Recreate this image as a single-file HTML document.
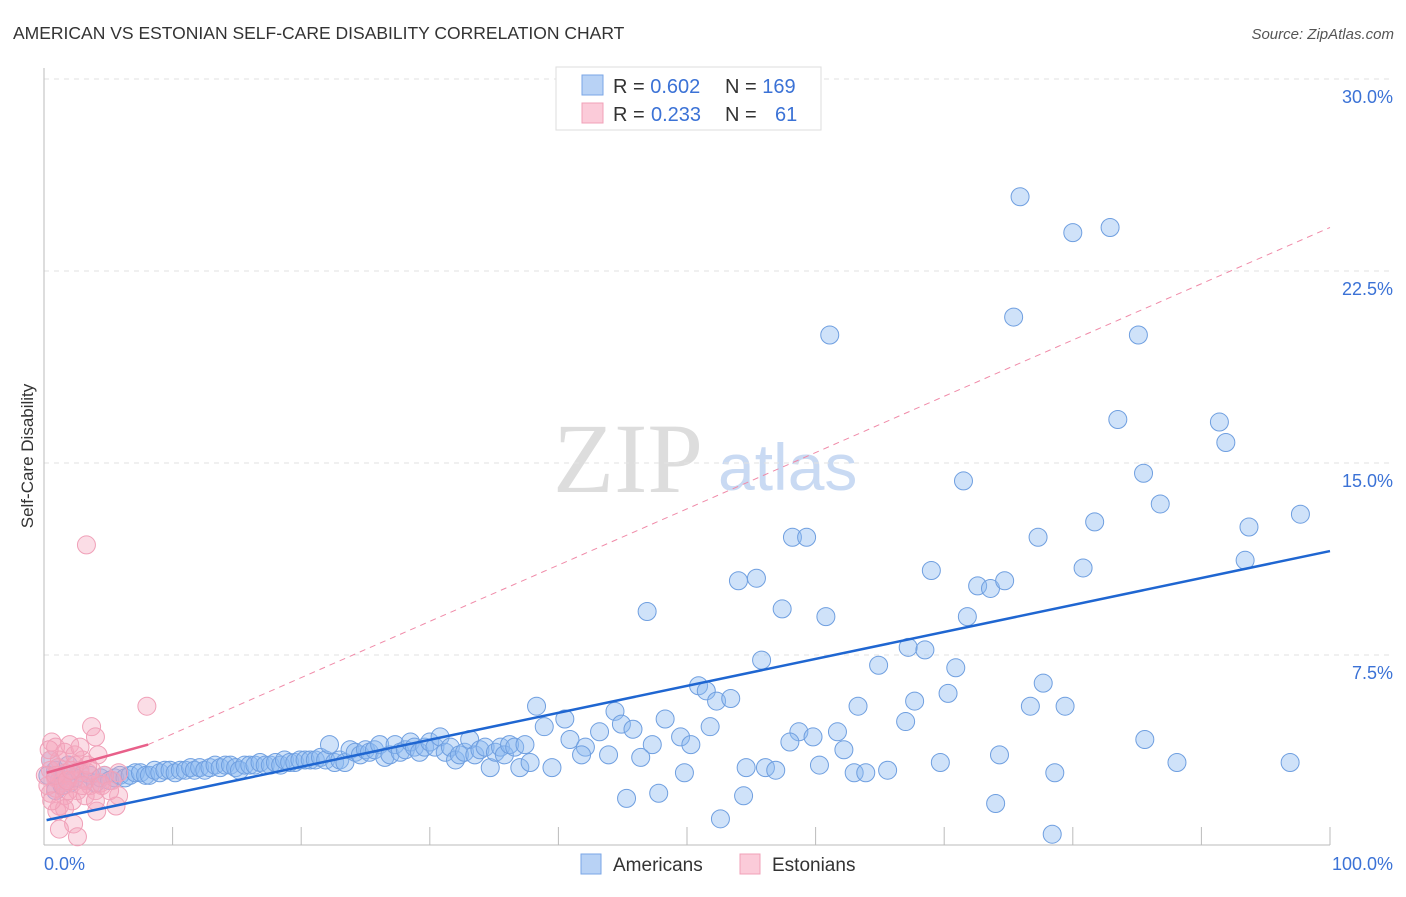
<!DOCTYPE html>
<html><head><meta charset="utf-8"><style>
body{margin:0;background:#fff;font-family:"Liberation Sans",sans-serif;}
svg text{font-family:"Liberation Sans",sans-serif;}
</style></head><body>
<svg id="chart" width="1406" height="892" xmlns="http://www.w3.org/2000/svg">
<text x="13" y="39" font-size="17.5" fill="#333">AMERICAN VS ESTONIAN SELF-CARE DISABILITY CORRELATION CHART</text>
<text x="1394" y="39" font-size="15" fill="#555" font-style="italic" text-anchor="end">Source: ZipAtlas.com</text>
<g>
<text x="553" y="492" font-size="100" fill="#ddd" style="font-family:'Liberation Serif',serif">ZIP</text>
<text x="718" y="490" font-size="66" fill="#c9daf3">atlas</text>
</g>
<g id="grid"></g>
<g id="axes"></g>
<g id="pts"></g>
<g id="lines"></g>
<text transform="translate(33,456) rotate(-90)" font-size="17" fill="#333" text-anchor="middle">Self-Care Disability</text>
<text x="44" y="870" font-size="18" fill="#3b72d6">0.0%</text>
<text x="1393" y="870" font-size="18" fill="#3b72d6" text-anchor="end">100.0%</text>
<g>
<rect x="556" y="67" width="265" height="63" fill="#fff" stroke="#ddd"/>
<rect x="582" y="75" width="21" height="20" fill="#b8d2f5" stroke="#7aa6e6"/>
<rect x="582" y="103" width="21" height="20" fill="#fbcbd9" stroke="#f0a0b8"/>
<text x="613" y="93" font-size="20" fill="#333">R = <tspan fill="#3b72d6">0.602</tspan><tspan x="725">N = </tspan><tspan fill="#3b72d6">169</tspan></text>
<text x="613" y="121" font-size="20" fill="#333">R = <tspan fill="#3b72d6" x="651">0.233</tspan><tspan x="725">N = </tspan><tspan fill="#3b72d6" x="775">61</tspan></text>
</g>
<g>
<rect x="581" y="854" width="20" height="20" fill="#b8d2f5" stroke="#7aa6e6"/>
<text x="613" y="871" font-size="19" fill="#333">Americans</text>
<rect x="740" y="854" width="20" height="20" fill="#fbcbd9" stroke="#f0a0b8"/>
<text x="772" y="871" font-size="19" fill="#333">Estonians</text>
</g>
</svg>
<script>
const yTicks=[7.5,15,22.5,30];
const yTickLabels=["7.5%","15.0%","22.5%","30.0%"];
const xTicks=[10,20,30,40,50,60,70,80,90,100];
const amerX=[75.9,80.0,82.9,61.1,75.4,85.1,83.5,91.4,91.9,85.5,71.5,86.8,97.7,93.7,81.7,77.3,58.2,59.3,93.4,69.0,80.8,54.0,55.4,72.6,73.6,74.7,46.9,57.4,60.8,71.8,55.8,64.9,67.2,68.5,70.9,77.7,50.9,51.5,52.3,53.4,70.3,67.7,63.3,76.7,79.4,38.3,44.4,40.5,38.9,48.3,51.8,67.0,44.9,45.8,43.2,58.7,61.7,85.6,58.0,59.8,49.5,50.3,40.9,42.1,47.3,62.2,74.3,69.7,88.1,96.9,43.9,46.4,41.8,49.8,54.6,56.1,56.9,60.3,63.0,63.9,65.6,78.6,39.5,45.3,47.8,54.4,74.0,52.6,78.4,
0.9,1.2,1.6,2.0,2.4,2.8,3.2,3.6,4.0,4.4,4.7,5.1,5.5,5.9,6.3,6.7,7.1,7.5,7.9,8.2,8.6,9.0,9.4,9.8,10.2,10.6,11.0,11.4,11.7,12.1,12.5,12.9,13.3,13.7,14.1,14.5,14.9,15.2,15.6,16.0,16.4,16.8,17.2,17.6,18.0,18.4,18.7,19.1,19.5,19.9,20.3,20.7,21.1,21.5,21.9,22.2,22.6,23.0,23.4,23.8,24.2,24.6,25.0,25.3,25.7,26.1,26.5,26.9,27.3,27.7,28.1,28.5,28.8,29.2,29.6,30.0,30.4,30.8,31.2,31.6,32.0,32.3,32.7,33.1,33.5,33.9,34.3,34.7,35.1,35.5,35.8,36.2,36.6,37.0,37.4,37.8,0.5,0.9,1.4,1.9,0.3];
const amerY=[25.4,24.0,24.2,20.0,20.7,20.0,16.7,16.6,15.8,14.6,14.3,13.4,13.0,12.5,12.7,12.1,12.1,12.1,11.2,10.8,10.9,10.4,10.5,10.2,10.1,10.4,9.2,9.3,9.0,9.0,7.3,7.1,7.8,7.7,7.0,6.4,6.3,6.1,5.7,5.8,6.0,5.7,5.5,5.5,5.5,5.5,5.3,5.0,4.7,5.0,4.7,4.9,4.8,4.6,4.5,4.5,4.5,4.2,4.1,4.3,4.3,4.0,4.2,3.9,4.0,3.8,3.6,3.3,3.3,3.3,3.6,3.5,3.6,2.9,3.1,3.1,3.0,3.2,2.9,2.9,3.0,2.9,3.1,1.9,2.1,2.0,1.7,1.1,0.5,
3.0,2.6,2.8,2.5,2.7,2.9,2.6,2.8,2.5,2.7,2.8,2.6,2.7,2.8,2.7,2.8,2.9,2.9,2.8,2.8,3.0,2.9,3.0,3.0,2.9,3.0,3.0,3.1,3.0,3.1,3.0,3.1,3.2,3.1,3.2,3.2,3.1,3.0,3.2,3.2,3.2,3.3,3.2,3.2,3.3,3.2,3.4,3.3,3.3,3.4,3.4,3.4,3.4,3.5,3.4,4.0,3.3,3.4,3.3,3.8,3.7,3.6,3.8,3.7,3.8,4.0,3.5,3.6,4.0,3.7,3.8,4.1,3.9,3.7,3.9,4.1,3.9,4.3,3.7,3.9,3.4,3.6,3.7,4.2,3.6,3.8,3.9,3.1,3.7,3.9,3.6,4.0,3.9,3.1,4.0,3.3,3.4,2.2,2.4,3.2,2.8];
const estX=[3.3,8.0,3.7,4.0,0.6,0.9,2.0,1.6,4.2,1.2,2.4,0.5,2.8,0.9,1.4,2.0,3.2,3.6,2.6,0.5,1.6,2.2,1.2,0.9,4.0,5.8,5.8,5.3,4.7,4.4,3.0,3.4,0.5,1.1,1.7,2.3,3.7,1.0,1.6,4.1,2.3,1.2,2.6,5.6,0.3,0.6,1.9,3.2,0.1,2.4,2.8,4.5,4.0,1.5,0.9,5.1,1.8,3.0,0.4,2.1,3.4];
const estY=[11.8,5.5,4.7,4.3,4.1,3.9,4.0,3.7,3.6,3.4,3.2,3.0,3.0,2.7,2.5,2.8,2.6,2.4,2.2,2.1,2.0,1.8,1.6,2.3,2.2,2.9,2.0,2.6,2.8,2.5,3.4,2.9,3.4,3.1,2.9,2.6,3.0,1.4,1.5,1.4,0.9,0.7,0.4,1.6,2.4,1.8,2.2,2.0,2.8,3.6,3.9,2.4,1.8,2.4,2.8,2.2,2.6,2.4,3.8,3.0,3.2];
const amerTrend=[[0.2,1.05],[100,11.56]];
const estTrend=[[0.2,2.9],[8.1,4.0]];
const estTrendDash=[[8.1,4.0],[100,24.2]];
const NS="http://www.w3.org/2000/svg";
const xs=v=>44+v*12.86, ys=v=>847-v*25.6;
function mk(tag,attrs,parent){const e=document.createElementNS(NS,tag);for(const k in attrs)e.setAttribute(k,attrs[k]);document.getElementById(parent).appendChild(e);return e;}
yTicks.forEach((t,i)=>{
 const l=mk('line',{x1:44,x2:1393,y1:ys(t),y2:ys(t),stroke:'#e2e2e2','stroke-dasharray':'5,5'},'grid');
 
 
 const tx=mk('text',{x:1393,y:ys(t)+24,'font-size':18,fill:'#3b72d6','text-anchor':'end'},'grid');
 tx.textContent=yTickLabels[i];
 
 
});
const ya=mk('line',{x1:44,x2:44,y1:68,y2:845,stroke:'#bbb'},'axes');


const xa=mk('line',{x1:44,x2:1330,y1:845,y2:845,stroke:'#bbb'},'axes');


xTicks.forEach(t=>{
 const l=mk('line',{x1:xs(t),x2:xs(t),y1:827,y2:845,stroke:'#bbb'},'axes');
 
 
});
amerX.forEach((x,i)=>{
 const c=mk('circle',{cx:xs(x),cy:ys(amerY[i]),r:9,fill:'rgba(140,185,240,0.42)',stroke:'#6f9fe0','stroke-width':1},'pts');
 
 
});
estX.forEach((x,i)=>{
 const c=mk('circle',{cx:xs(x),cy:ys(estY[i]),r:9,fill:'rgba(245,165,190,0.38)',stroke:'#f0a0b8','stroke-width':1},'pts');
 
 
});
let l1=mk('line',{x1:xs(amerTrend[0][0]),y1:ys(amerTrend[0][1]),x2:xs(amerTrend[1][0]),y2:ys(amerTrend[1][1]),stroke:'#1f66d1','stroke-width':2.5},'lines');


let l2=mk('line',{x1:xs(estTrendDash[0][0]),y1:ys(estTrendDash[0][1]),x2:xs(estTrendDash[1][0]),y2:ys(estTrendDash[1][1]),stroke:'#f08aa8','stroke-width':1,'stroke-dasharray':'6,5'},'lines');


let l3=mk('line',{x1:xs(estTrend[0][0]),y1:ys(estTrend[0][1]),x2:xs(estTrend[1][0]),y2:ys(estTrend[1][1]),stroke:'#e8608a','stroke-width':2.5},'lines');


</script>
</body></html>
